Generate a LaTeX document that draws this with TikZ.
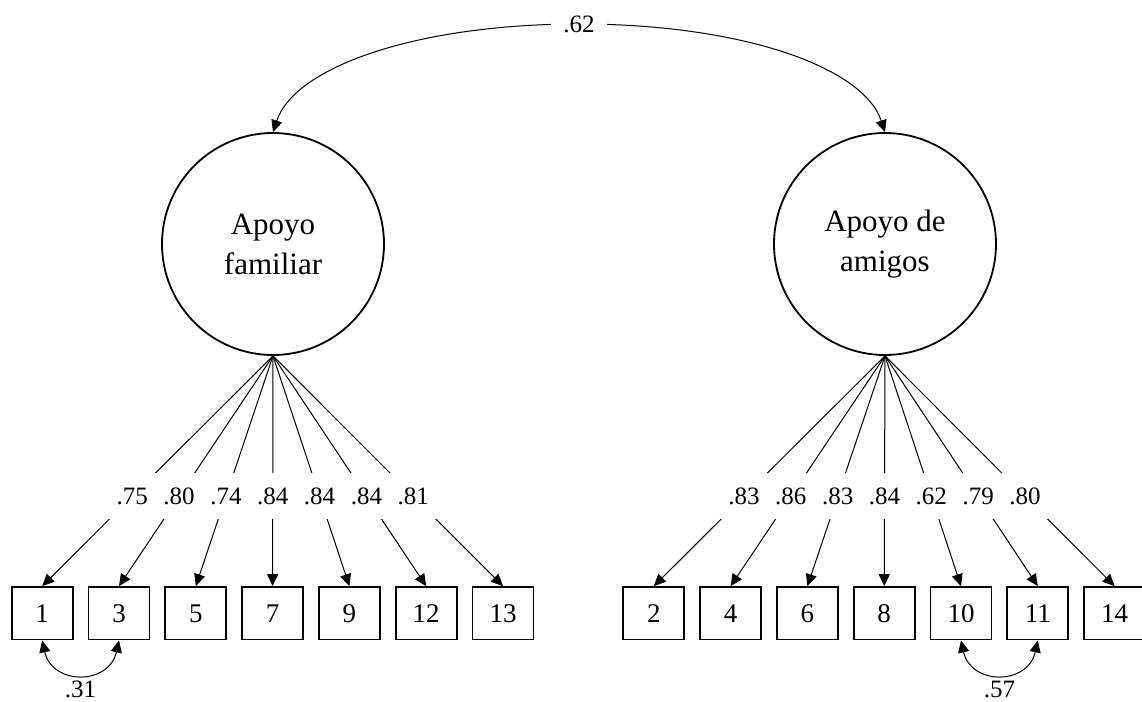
\documentclass[tikz,border=0pt]{standalone}
\usepackage{fontspec}
\setmainfont{Liberation Serif}
\usetikzlibrary{positioning,arrows.meta}

\tikzset{
  latent/.style={circle, draw, line width=0.9pt, minimum size=111pt, inner sep=0pt,
    align=center, font=\fontsize{15.5}{20}\selectfont},
  item/.style={rectangle, draw, line width=0.9pt, minimum width=30.5pt,
    minimum height=26.25pt, inner sep=0pt, font=\fontsize{13.5}{15}\selectfont},
  load/.style={line width=0.5pt, -{Triangle[length=6pt,width=5.5pt]}},
  cov/.style={line width=0.5pt, {Triangle[length=6pt,width=5.5pt]}-{Triangle[length=6pt,width=5.5pt]}},
  coef/.style={fill=white, minimum height=23pt, inner xsep=6pt, inner ysep=0pt,
    font=\fontsize{12.5}{14}\selectfont},
  resid/.style={font=\fontsize{12.5}{14}\selectfont},
}

\begin{document}
\begin{tikzpicture}[x=0.5pt, y=-0.5pt]
  \useasboundingbox (0,0) rectangle (1142,702);

  % factors
  \node[latent] (fam) at (273,244) {Apoyo\\familiar};
  \node[latent] (amg) at (885,244) {Apoyo de\\amigos};

  % items, family
  \node[item] (i1) at (42.2,613.3) {1};
  \node[item, right=7pt of i1] (i3) {3};
  \node[item, right=7pt of i3] (i5) {5};
  \node[item, right=7pt of i5] (i7) {7};
  \node[item, right=7pt of i7] (i9) {9};
  \node[item, right=7pt of i9] (i12) {12};
  \node[item, right=7pt of i12] (i13) {13};

  % items, friends
  \node[item] (i2) at (653.8,613.3) {2};
  \node[item, right=7pt of i2] (i4) {4};
  \node[item, right=7pt of i4] (i6) {6};
  \node[item, right=7pt of i6] (i8) {8};
  \node[item, right=7pt of i8] (i10) {10};
  \node[item, right=7pt of i10] (i11) {11};
  \node[item, right=7pt of i11] (i14) {14};

  % loadings
  \draw[load] (fam.south) -- node[coef, pos=0.61] (l1) {.75} (i1.north);
  \draw[load] (fam.south) -- node[coef, pos=0.61] (l3) {.80} (i3.north);
  \draw[load] (fam.south) -- node[coef, pos=0.61] (l5) {.74} (i5.north);
  \draw[load] (fam.south) -- node[coef, pos=0.61] (l7) {.84} (i7.north);
  \draw[load] (fam.south) -- node[coef, pos=0.61] (l9) {.84} (i9.north);
  \draw[load] (fam.south) -- node[coef, pos=0.61] (l12) {.84} (i12.north);
  \draw[load] (fam.south) -- node[coef, pos=0.61] (l13) {.81} (i13.north);

  \draw[load] (amg.south) -- node[coef, pos=0.61] (l2) {.83} (i2.north);
  \draw[load] (amg.south) -- node[coef, pos=0.61] (l4) {.86} (i4.north);
  \draw[load] (amg.south) -- node[coef, pos=0.61] (l6) {.83} (i6.north);
  \draw[load] (amg.south) -- node[coef, pos=0.61] (l8) {.84} (i8.north);
  \draw[load] (amg.south) -- node[coef, pos=0.61] (l10) {.62} (i10.north);
  \draw[load] (amg.south) -- node[coef, pos=0.61] (l11) {.79} (i11.north);
  \draw[load] (amg.south) -- node[coef, pos=0.61] (l14) {.80} (i14.north);

  % factor correlation
  \coordinate (top) at (579,24);
  \draw[cov] (fam.north) .. controls +(22,-66) and +(-160,0) .. (top)
    .. controls +(160,0) and +(-22,-66) .. (amg.north);
  \node[coef] (c62) at (top) {.62};

  % error covariances
  \draw[cov] (i1.south) .. controls +(10,45) and +(-10,45) .. (i3.south)
    node[resid, midway, below=0pt] (c31) {.31};
  \draw[cov] (i10.south) .. controls +(10,45) and +(-10,45) .. (i11.south)
    node[resid, midway, below=0pt] (c57) {.57};
\end{tikzpicture}
\end{document}
